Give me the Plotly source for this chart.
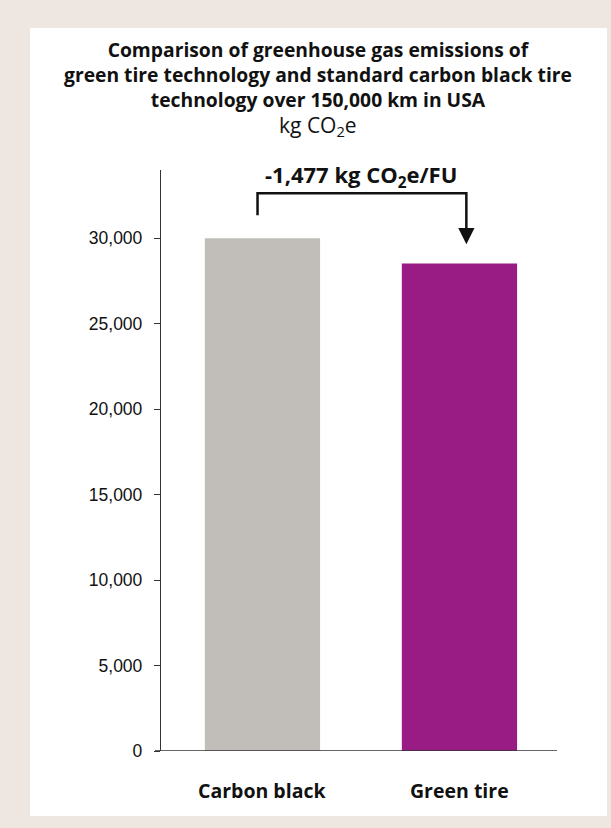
import plotly.graph_objects as go

categories = ["Carbon black", "Green tire"]
emissions = [30000, 28523]
bar_colors = ["#C1BEBA", "#991B84"]
tick_vals = [0, 5000, 10000, 15000, 20000, 25000, 30000]
tick_text = ["0", "5,000", "10,000", "15,000", "20,000", "25,000", "30,000"]
title_lines = [
    "Comparison of greenhouse gas emissions of",
    "green tire technology and standard carbon black tire",
    "technology over 150,000 km in USA",
]
unit_text = "kg CO<sub>2</sub>e"
diff_text = "-1,477 kg CO<sub>2</sub>e/FU"

W, H = 611, 828
L, R, T, B = 161, 56, 170, 77
pw, ph = W - L - R, H - T - B

def px(x):
    return (x - L) / pw

def py(y):
    return (H - B - y) / ph

fig = go.Figure(go.Bar(
    x=[0, 1], y=emissions, marker_color=bar_colors, marker_line_width=0,
    width=0.585, hoverinfo="skip",
))

TF = "'Open Sans', Lato, sans-serif"
annotations = []
annotations.append(dict(text="<br>".join("<b>" + t + "</b>" for t in title_lines),
                        x=px(318), y=py(74), xref="paper", yref="paper",
                        showarrow=False, font=dict(family=TF, size=19.3, color="#111111"),
                        xanchor="center", yanchor="middle", align="center"))
annotations.append(dict(text=unit_text, x=px(318), y=py(126), xref="paper", yref="paper",
                        showarrow=False, font=dict(family=TF, size=21, color="#111111"),
                        xanchor="center", yanchor="middle"))
annotations.append(dict(text="<b>" + diff_text + "</b>", x=px(361), y=py(176), xref="paper", yref="paper",
                        showarrow=False, font=dict(family=TF, size=22, color="#111111"),
                        xanchor="center", yanchor="middle"))
for i, c in enumerate(categories):
    annotations.append(dict(text="<b>" + c + "</b>", x=i, y=py(790), xref="x", yref="paper",
                            showarrow=False, font=dict(family=TF, size=19.5, color="#111111"),
                            xanchor="center", yanchor="middle"))
# arrow head
xl, xr = -0.025, 1.035
top_y = 32640
annotations.append(dict(x=xr, y=29650, ax=xr, ay=30500, xref="x", yref="y", axref="x", ayref="y",
                        text="", showarrow=True, arrowhead=2, arrowsize=1.3, arrowwidth=2.5,
                        arrowcolor="#111111"))

shapes = [
    dict(type="rect", xref="paper", yref="paper", x0=px(30), x1=px(607), y0=py(816), y1=py(28),
         fillcolor="white", line_width=0, layer="below"),
    dict(type="path", xref="x", yref="y",
         path=f"M {xl},31350 L {xl},{top_y} L {xr},{top_y} L {xr},30400",
         line=dict(color="#111111", width=2.5)),
    dict(type="line", xref="paper", yref="y", x0=px(155), x1=px(557), y0=0, y1=0,
         line=dict(color="#333333", width=1.3)),
]

fig.update_layout(
    width=W, height=H,
    margin=dict(l=L, r=R, t=T, b=B),
    paper_bgcolor="#EEE6E0",
    plot_bgcolor="rgba(0,0,0,0)",
    showlegend=False,
    annotations=annotations,
    shapes=shapes,
    xaxis=dict(range=[-0.515, 1.485], showticklabels=False, showgrid=False, zeroline=False,
               showline=False, ticks="", fixedrange=True),
    yaxis=dict(range=[0, 34000], tickvals=tick_vals, ticktext=tick_text, showgrid=False,
               zeroline=False, showline=True, linecolor="#333333", linewidth=1.3,
               ticks="outside", ticklen=6, tickcolor="#333333", tickwidth=1.3,
               ticklabelstandoff=8, fixedrange=True,
               tickfont=dict(family="Liberation Sans, Arial, sans-serif", size=17.5, color="#111111")),
)

fig.write_html("out.html", config={"displayModeBar": False},
               post_script="document.body.style.margin='0';")
